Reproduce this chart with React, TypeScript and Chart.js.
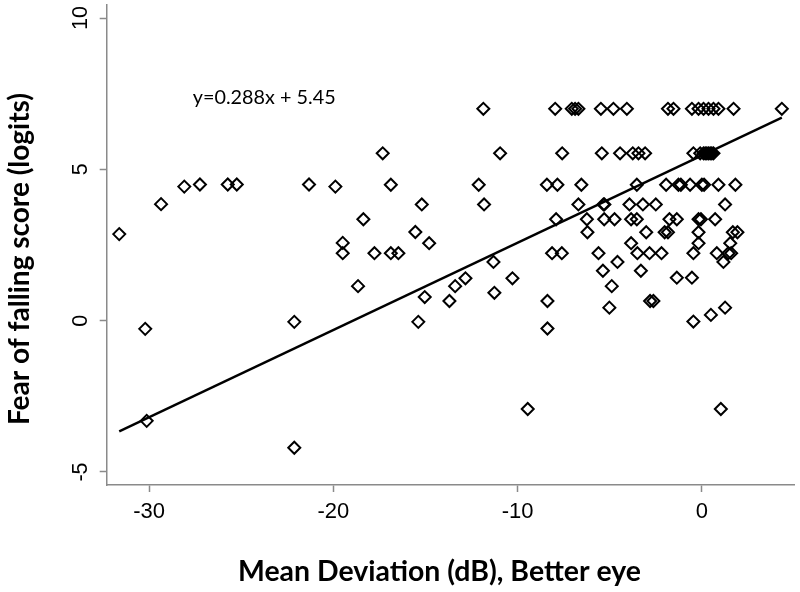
import React, { useEffect, useRef } from 'react';
import { Chart, registerables } from 'chart.js';

Chart.register(...registerables);

// Mean deviation (dB), better eye  — x values of each participant
const mdX: number[] = [
  -31.62, -29.35, -28.09, -27.24, -25.73, -25.24, -21.32, -19.89, -30.21, -22.12, -30.13, -22.12,
  -11.86, -17.32, -10.95, -16.88, -12.11, -15.20, -11.82, -18.37, -15.55, -19.49, -14.80, -19.49,
  -17.77, -16.88, -16.47, -11.31, -12.83, -10.28, -13.39, -18.66, -15.04, -13.70, -11.26, -15.39, -9.45,
  -7.96, -7.06, -6.88, -6.70, -5.48, -4.80, -4.07, -1.84, -1.54, -0.54, -0.18, 0.09, 0.36, 0.63, 0.90, 1.72, 4.34,
  -7.58, -5.43, -4.44, -3.75, -3.44, -3.08, -0.46, -0.09, 0.09, 0.18, 0.27, 0.36, 0.45, 0.54, 0.63,
  -8.41, -7.84, -6.54, -3.53, -1.94, -1.27, -1.14, -0.64, 0.00, 0.12, 0.90, 1.82,
  -6.70, -5.34, -5.29, -3.93, -3.20, -2.50, 1.26,
  -7.91, -6.24, -5.30, -4.74, -3.84, -3.53, -1.76, -1.36, -0.18, -0.05, 0.72,
  -6.21, -3.02, -2.02, -1.84, -0.18, 1.68, 1.93,
  -3.84, -0.18, 1.54,
  -8.13, -7.60, -5.61, -3.50, -2.84, -2.19, -0.46, 0.81, 1.44, 1.59,
  -4.58, 1.17,
  -5.37, -3.31,
  -1.36, -0.54,
  -4.89,
  -8.38, -2.81, -2.63,
  -5.02, 1.26,
  0.49,
  -0.46,
  -8.38,
  1.03,
];

// Fear of falling score (logits) — matching y values
const fofY: number[] = [
  2.86, 3.85, 4.43, 4.50, 4.50, 4.50, 4.50, 4.43, -0.27, -0.04, -3.31, -4.20,
  7.00, 5.53, 5.53, 4.49, 4.49, 3.84, 3.84, 3.35, 2.93, 2.57, 2.56, 2.23,
  2.23, 2.23, 2.23, 1.94, 1.40, 1.40, 1.14, 1.14, 0.78, 0.65, 0.92, -0.04, -2.92,
  7.00, 7.00, 7.00, 7.00, 7.00, 7.00, 7.00, 7.00, 7.00, 7.00, 7.00, 7.00, 7.00, 7.00, 7.00, 7.00, 7.00,
  5.53, 5.53, 5.53, 5.53, 5.53, 5.53, 5.53, 5.53, 5.53, 5.53, 5.53, 5.53, 5.53, 5.53, 5.53,
  4.49, 4.49, 4.49, 4.49, 4.49, 4.49, 4.49, 4.49, 4.49, 4.49, 4.49, 4.49,
  3.84, 3.84, 3.84, 3.84, 3.84, 3.84, 3.84,
  3.35, 3.35, 3.35, 3.35, 3.35, 3.35, 3.35, 3.35, 3.35, 3.35, 3.35,
  2.92, 2.92, 2.92, 2.92, 2.92, 2.92, 2.92,
  2.56, 2.56, 2.56,
  2.23, 2.23, 2.23, 2.23, 2.23, 2.23, 2.23, 2.23, 2.23, 2.23,
  1.94, 1.94,
  1.65, 1.65,
  1.42, 1.42,
  1.14,
  0.65, 0.65, 0.65,
  0.43, 0.43,
  0.19,
  -0.03,
  -0.26,
  -2.92,
];

// Fitted regression line end points: y = 0.288x + 5.45
const fitX: number[] = [-31.62, 4.34];
const fitY: number[] = [-3.66, 6.71];

const xTickValues: number[] = [-30, -20, -10, 0];
const yTickValues: number[] = [-5, 0, 5, 10];

const equationText = 'y=0.288x + 5.45';
const equationAt: number[] = [-27.63, 7.36];
const xTitle = 'Mean Deviation (dB), Better eye';
const yTitle = 'Fear of falling score (logits)';

const AXIS_GRAY = '#8a8a8a';

// draw text with a given font size, squeezed/stretched along its direction to a target length
function drawFitted(
  ctx: CanvasRenderingContext2D,
  text: string,
  font: string,
  target: number,
  cx: number,
  cy: number,
  rotation: number,
  align: CanvasTextAlign,
) {
  ctx.save();
  ctx.font = font;
  const w = ctx.measureText(text).width;
  ctx.translate(cx, cy);
  ctx.rotate(rotation);
  ctx.scale(target / w, 1);
  ctx.textAlign = align;
  ctx.textBaseline = 'middle';
  ctx.fillText(text, 0, 0);
  ctx.restore();
}

const textPlugin = {
  id: 'stataTexts',
  afterDraw(chart: any) {
    const ctx: CanvasRenderingContext2D = chart.ctx;
    const xs = chart.scales.x;
    const ys = chart.scales.y;
    ctx.save();
    ctx.fillStyle = '#000';

    drawFitted(
      ctx,
      equationText,
      'normal 19.5px Lato',
      143,
      xs.getPixelForValue(equationAt[0]),
      ys.getPixelForValue(equationAt[1]),
      0,
      'left',
    );
    drawFitted(ctx, xTitle, 'bold 28px Lato', 403, 439.5, 572, 0, 'center');
    drawFitted(ctx, yTitle, 'bold 29px Lato', 332, 20, 259, -Math.PI / 2, 'center');
    ctx.restore();
  },
};

export default function App() {
  const canvasRef = useRef<HTMLCanvasElement | null>(null);

  useEffect(() => {
    if (!canvasRef.current) return;
    const points = mdX.map((x, i) => ({ x, y: fofY[i] }));
    const fitPoints = fitX.map((x, i) => ({ x, y: fitY[i] }));

    const chart = new Chart(canvasRef.current, {
      type: 'scatter',
      data: {
        datasets: [
          {
            type: 'line',
            label: 'fit',
            data: fitPoints,
            borderColor: '#000',
            borderWidth: 2.4,
            pointRadius: 0,
            showLine: true,
            fill: false,
          } as any,
          {
            label: 'participants',
            data: points,
            pointStyle: 'rectRot',
            pointRadius: 6,
            pointBorderWidth: 2,
            borderColor: '#000',
            backgroundColor: 'rgba(0,0,0,0)',
            pointBackgroundColor: 'rgba(0,0,0,0)',
          } as any,
        ],
      },
      options: {
        animation: false,
        responsive: false,
        devicePixelRatio: 1,
        layout: { autoPadding: false, padding: { left: 0, right: 6, top: 5, bottom: 0 } } as any,
        plugins: {
          legend: { display: false },
          tooltip: { enabled: false },
        },
        scales: {
          x: {
            type: 'linear',
            min: -32.3,
            max: 5.0,
            afterBuildTicks: (s: any) => {
              s.ticks = xTickValues.map((v) => ({ value: v }));
            },
            afterFit: (s: any) => {
              s.height = 107;
              s.paddingLeft = 0;
              s.paddingRight = 0;
            },
            grid: {
              drawOnChartArea: false,
              drawTicks: true,
              tickLength: 7,
              tickWidth: 1.5,
              tickColor: AXIS_GRAY,
              color: AXIS_GRAY,
            },
            border: { display: true, color: AXIS_GRAY, width: 1.5 },
            ticks: {
              autoSkip: false,
              maxRotation: 0,
              padding: 7,
              color: '#000',
              font: { family: 'Liberation Sans', size: 22 },
              callback: (v: any) => String(v),
            },
          },
          y: {
            type: 'linear',
            min: -5.43,
            max: 10.43,
            afterBuildTicks: (s: any) => {
              s.ticks = yTickValues.map((v) => ({ value: v }));
            },
            afterFit: (s: any) => {
              s.width = 106.7;
              s.paddingTop = 0;
              s.paddingBottom = 0;
            },
            grid: {
              drawOnChartArea: false,
              drawTicks: true,
              tickLength: 7,
              tickWidth: 1.5,
              tickColor: AXIS_GRAY,
              color: AXIS_GRAY,
            },
            border: { display: true, color: AXIS_GRAY, width: 1.5 },
            ticks: {
              autoSkip: false,
              minRotation: 90,
              maxRotation: 90,
              crossAlign: 'center',
              padding: 7,
              color: '#000',
              font: { family: 'Liberation Sans', size: 21.5 },
              callback: (v: any) => String(v),
            },
          },
        },
      } as any,
      plugins: [textPlugin],
    });

    return () => chart.destroy();
  }, []);

  return (
    <div style={{ position: 'absolute', left: 0, top: 0, width: 800, height: 592, background: '#fff' }}>
      <canvas ref={canvasRef} width={800} height={592} style={{ width: 800, height: 592, display: 'block' }} />
    </div>
  );
}
